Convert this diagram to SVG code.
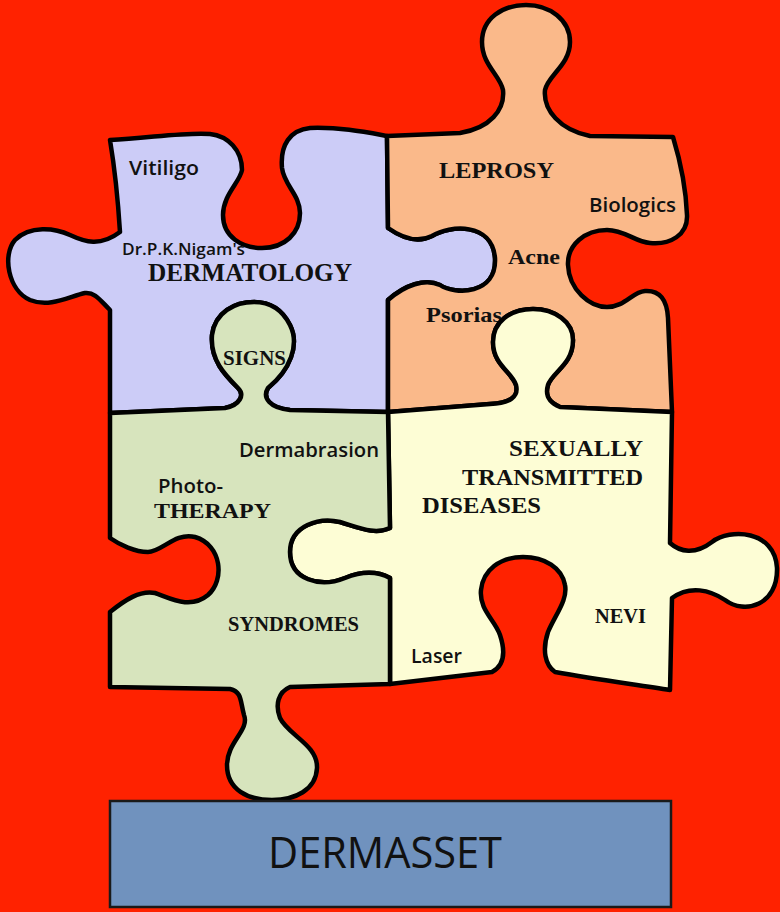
<svg xmlns="http://www.w3.org/2000/svg" width="780" height="912" viewBox="0 0 780 912">
<style>
.pc{stroke:#000;stroke-width:4.5;stroke-linejoin:round;stroke-linecap:round}
.sans{font-family:"Open Sans","Liberation Sans",sans-serif;font-weight:600;fill:#111}
.ser{font-family:"Liberation Serif","DejaVu Serif",serif;font-weight:bold;fill:#111}
</style>
<rect x="0" y="0" width="780" height="912" fill="#ff2200"/>
<g id="dermatology">
<path class="pc" fill="#ccccf7" d="M110,140 C150,138 185,132 210,134 C228,136 242,150 242,170 C240,182 223,195 223,215 C223,237 242,248 262,248 C285,248 300,233 300,213 C300,195 284,185 282,168 C280,145 290,130 310,128 C340,127 365,132 387,136 L388,228 C405,240 420,242 432,236 C450,225 492,222 495,258 C497,295 455,295 440,285 C425,278 405,285 388,300 L388,412 L290,410 C270,408 262,398 268,388 C290,370 300,345 290,325 C280,305 265,302 254,302 C235,302 215,312 212,335 C210,360 225,375 238,388 C245,395 240,405 225,408 L110,413 L110,310 C100,300 95,292 85,293 C70,296 50,308 30,300 C8,290 2,255 15,240 C30,225 55,228 70,235 C85,242 100,247 120,232 C118,200 115,170 110,140 Z"/>
<text class="sans" x="129" y="175" font-size="20" textLength="70" lengthAdjust="spacingAndGlyphs">Vitiligo</text>
<text class="sans" x="122" y="255" font-size="16" textLength="123" lengthAdjust="spacingAndGlyphs">Dr.P.K.Nigam's</text>
<text class="ser" x="148" y="281" font-size="25" textLength="204" lengthAdjust="spacingAndGlyphs">DERMATOLOGY</text>
</g>
<g id="leprosy">
<path class="pc" fill="#fab98a" d="M387,136 L460,133 C490,128 505,110 503,90 C500,75 482,65 482,42 C482,18 503,5 526,5 C550,5 570,20 570,42 C570,65 548,75 545,90 C543,110 560,130 590,136 L673,137 C680,160 686,190 687,215 C688,235 670,245 650,243 C635,242 625,230 607,230 C585,230 567,245 568,265 C569,290 590,307 607,307 C625,307 632,292 645,291 C660,290 667,300 668,318 L672,412 L560,407 C548,402 545,395 548,385 C552,372 573,365 573,340 C573,322 555,309 533,309 C510,309 493,322 493,342 C493,365 512,372 516,385 C519,397 510,403 490,404 L388,412 L388,300 C405,285 425,278 440,285 C455,295 497,295 495,258 C492,222 450,225 432,236 C420,242 405,240 388,228 Z"/>
<text class="ser" x="439" y="178" font-size="24" textLength="115" lengthAdjust="spacingAndGlyphs">LEPROSY</text>
<text class="sans" x="589" y="212" font-size="20" textLength="87" lengthAdjust="spacingAndGlyphs">Biologics</text>
<text class="ser" x="508" y="264" font-size="22" textLength="52" lengthAdjust="spacingAndGlyphs">Acne</text>
<text class="ser" x="426" y="322" font-size="22" textLength="76" lengthAdjust="spacingAndGlyphs">Psorias</text>
</g>
<g id="std">
<path class="pc" fill="#fdfdd5" d="M388,412 L490,404 C510,403 519,397 516,385 C512,372 493,365 493,342 C493,322 510,309 533,309 C555,309 573,322 573,340 C573,365 552,372 548,385 C545,395 548,402 560,407 L672,412 L670,543 C680,552 695,555 712,542 C730,528 775,530 777,568 C778,605 745,615 725,600 C710,590 690,585 672,598 L670,690 C640,685 600,680 555,672 C545,665 542,650 548,632 C555,615 568,600 565,585 C562,568 545,557 523,557 C500,557 483,570 481,590 C479,610 495,620 500,635 C505,650 505,665 492,672 L390,684 L390,578 C375,570 360,572 345,578 C320,588 290,580 290,552 C290,525 320,517 340,522 C360,528 375,535 390,528 Z"/>
<text class="ser" x="509" y="456" font-size="23" textLength="134" lengthAdjust="spacingAndGlyphs">SEXUALLY</text>
<text class="ser" x="462" y="485" font-size="23" textLength="181" lengthAdjust="spacingAndGlyphs">TRANSMITTED</text>
<text class="ser" x="422" y="513" font-size="23" textLength="119" lengthAdjust="spacingAndGlyphs">DISEASES</text>
<text class="ser" x="595" y="623" font-size="20" textLength="51" lengthAdjust="spacingAndGlyphs">NEVI</text>
<text class="sans" x="411" y="663" font-size="20" textLength="51" lengthAdjust="spacingAndGlyphs">Laser</text>
</g>
<g id="signs">
<path class="pc" fill="#d7e4bd" d="M110,413 L225,408 C240,405 245,395 238,388 C225,375 210,360 212,335 C215,312 235,302 254,302 C265,302 280,305 290,325 C300,345 290,370 268,388 C262,398 270,408 290,410 L388,412 L390,528 C375,535 360,528 340,522 C320,517 290,525 290,552 C290,580 320,588 345,578 C360,572 375,570 390,578 L390,684 L290,687 C278,692 275,705 280,718 C288,735 318,745 317,768 C316,790 295,800 272,800 C248,800 227,790 227,765 C227,742 250,730 244,715 C240,700 242,692 230,689 L110,687 L110,612 C125,600 140,590 155,593 C170,598 190,610 208,595 C225,580 222,545 195,537 C175,532 162,552 148,552 C135,552 120,545 110,538 Z"/>
<text class="ser" x="223" y="365" font-size="21" textLength="63" lengthAdjust="spacingAndGlyphs">SIGNS</text>
<text class="sans" x="239" y="457" font-size="20" textLength="140" lengthAdjust="spacingAndGlyphs">Dermabrasion</text>
<text class="sans" x="158" y="493" font-size="20" textLength="65" lengthAdjust="spacingAndGlyphs">Photo-</text>
<text class="ser" x="154" y="518" font-size="22" textLength="117" lengthAdjust="spacingAndGlyphs">THERAPY</text>
<text class="ser" x="228" y="631" font-size="20" textLength="131" lengthAdjust="spacingAndGlyphs">SYNDROMES</text>
</g>
<g id="dermasset">
<rect x="110" y="801" width="561" height="106" fill="#7092be" stroke="#1a1a1a" stroke-width="2.5"/>
<text x="268" y="868" font-family="Open Sans, Liberation Sans, sans-serif" font-size="44" fill="#111" textLength="234" lengthAdjust="spacingAndGlyphs">DERMASSET</text>
</g>
</svg>
